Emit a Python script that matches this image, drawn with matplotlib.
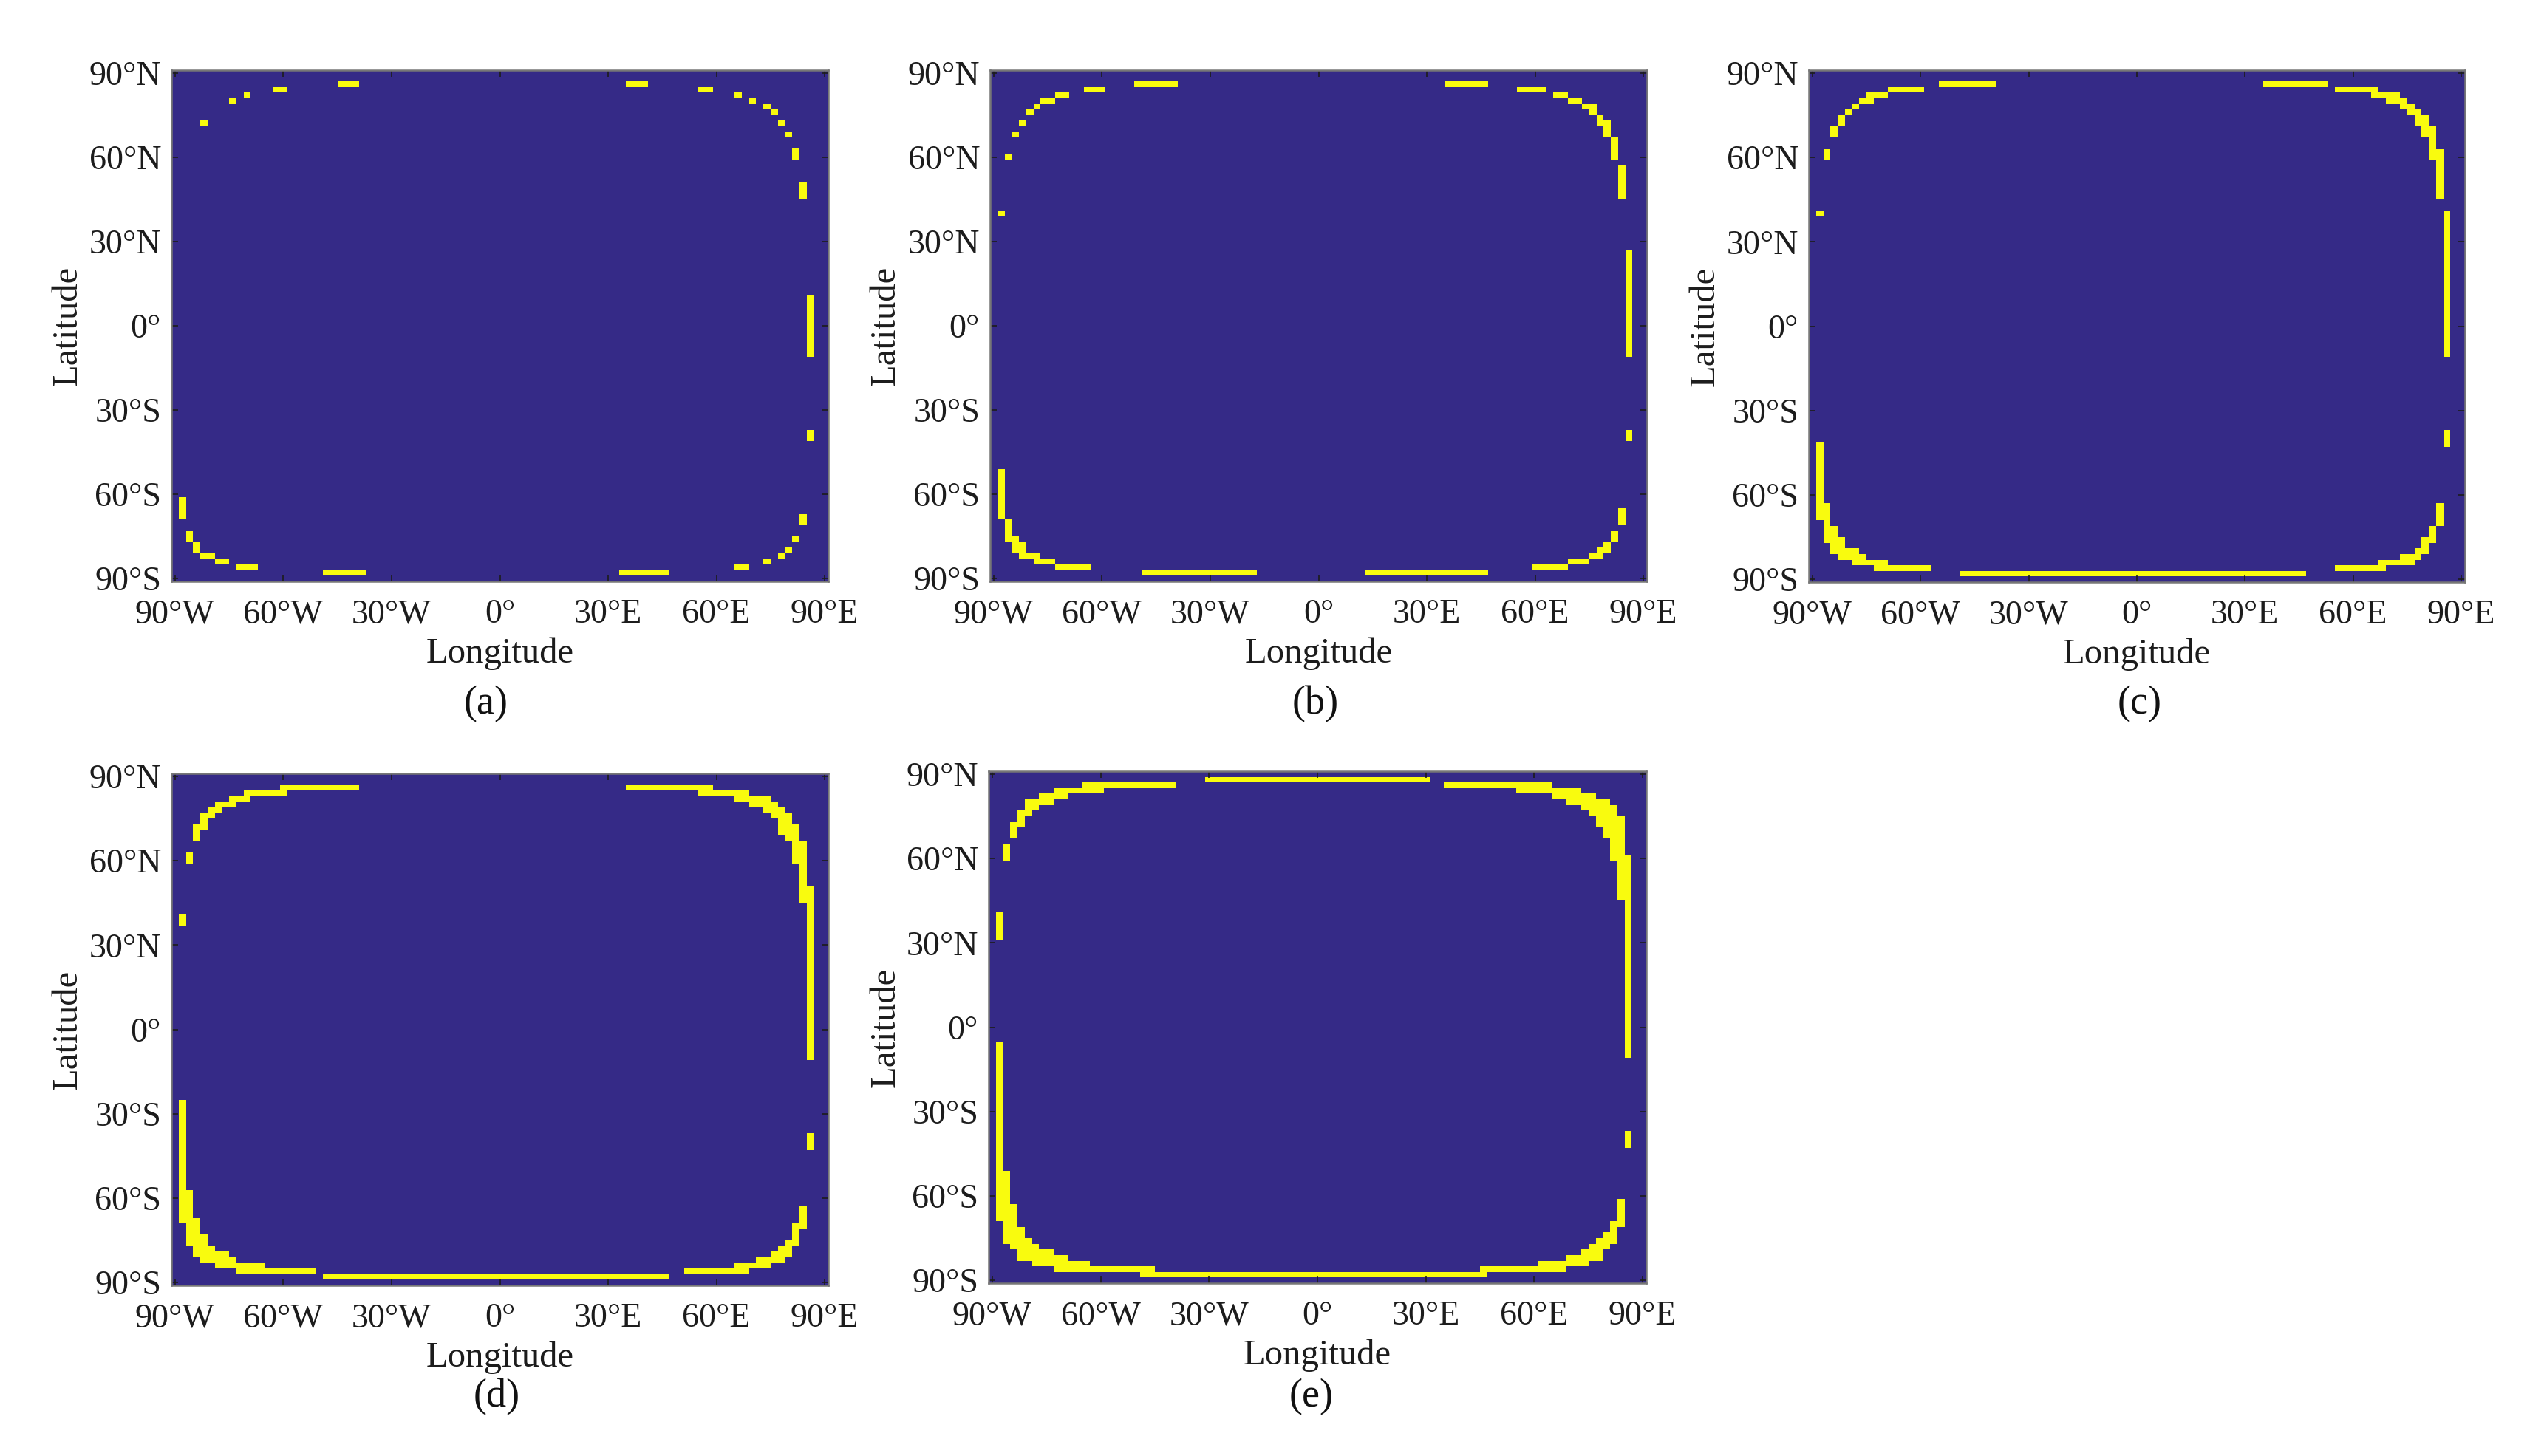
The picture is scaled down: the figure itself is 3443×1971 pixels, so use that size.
import numpy as np
import matplotlib
matplotlib.use('Agg')
import matplotlib.pyplot as plt
from matplotlib.colors import ListedColormap

plt.rcParams['font.family'] = ['Liberation Serif', 'DejaVu Sans']

# grid is 2 degrees, centres at -90:2:90
lons = np.arange(-90, 91, 2)
lats = np.arange(90, -91, -2)

lon_ticks = [-90, -60, -30, 0, 30, 60, 90]
lon_labels = ['90°W', '60°W', '30°W', '0°', '30°E', '60°E', '90°E']
lat_ticks = [90, 60, 30, 0, -30, -60, -90]
lat_labels = ['90°N', '60°N', '30°N', '0°', '30°S', '60°S', '90°S']

# covered blocks: (lat north, lat south, lon west, lon east)
cells_a = [
    (86, 86, -44, -40), (86, 86, 36, 40), (84, 84, -62, -60), (84, 84, 56, 58),
    (82, 82, -70, -70), (82, 82, 66, 66), (80, 80, -74, -74), (80, 80, 70, 70),
    (78, 78, 74, 74), (76, 76, 76, 76), (72, 72, -82, -82), (72, 72, 78, 78),
    (68, 68, 80, 80), (62, 60, 82, 82), (50, 46, 84, 84), (10, -10, 86, 86),
    (-38, -40, 86, 86), (-68, -70, 84, 84), (-76, -76, 82, 82), (-80, -80, 80, 80),
    (-82, -82, 78, 78), (-84, -84, 74, 74), (-86, -86, 66, 68), (-86, -86, -72, -68),
    (-88, -88, -48, -38), (-88, -88, 34, 46), (-62, -68, -88, -88), (-74, -76, -86, -86),
    (-78, -80, -84, -84), (-82, -82, -82, -80), (-84, -84, -78, -76),
]
cells_b = [
    (86, 86, -50, -40), (86, 86, 36, 46), (84, 84, -64, -60), (84, 84, 56, 62),
    (82, 82, -72, -70), (82, 82, 66, 68), (80, 80, -76, -74), (80, 80, 70, 72),
    (78, 78, -78, -78), (78, 78, 74, 76), (76, 76, -80, -80), (76, 76, 76, 76),
    (74, 74, 78, 78), (72, 72, -82, -82), (72, 72, 78, 80), (70, 68, 80, 80),
    (68, 68, -84, -84), (66, 60, 82, 82), (60, 60, -86, -86), (56, 46, 84, 84),
    (40, 40, -88, -88), (26, -10, 86, 86), (-38, -40, 86, 86), (-66, -70, 84, 84),
    (-74, -76, 82, 82), (-78, -78, 80, 80), (-80, -80, 78, 80), (-82, -82, 76, 78),
    (-84, -84, 70, 74), (-86, -86, 60, 68), (-86, -86, -72, -64), (-88, -88, -48, -18),
    (-88, -88, 14, 46), (-52, -68, -88, -88), (-70, -76, -86, -86), (-76, -76, -84, -84),
    (-78, -80, -84, -82), (-82, -82, -82, -78), (-84, -84, -78, -74),
]
cells_c = [
    (86, 86, -54, -40), (86, 86, 36, 52), (84, 84, -68, -60), (84, 84, 56, 66),
    (82, 82, -74, -70), (82, 82, 66, 72), (80, 80, -76, -74), (80, 80, 70, 74),
    (78, 78, -78, -78), (78, 78, 74, 76), (76, 76, -80, -80), (76, 76, 76, 78),
    (74, 72, -82, -82), (74, 72, 78, 80), (70, 68, -84, -84), (70, 68, 80, 82),
    (66, 64, 82, 82), (62, 60, -86, -86), (62, 60, 82, 84), (58, 46, 84, 84),
    (40, 40, -88, -88), (40, -10, 86, 86), (-38, -42, 86, 86), (-64, -70, 84, 84),
    (-72, -76, 82, 82), (-76, -78, 80, 80), (-80, -80, 78, 80), (-82, -82, 74, 78),
    (-84, -84, 68, 76), (-86, -86, 56, 68), (-86, -86, -72, -58), (-88, -88, -48, 46),
    (-42, -68, -88, -88), (-64, -68, -86, -86), (-70, -70, -86, -86), (-72, -76, -86, -84),
    (-76, -78, -84, -82), (-80, -80, -84, -78), (-82, -82, -82, -76), (-84, -84, -78, -70),
]
cells_d = [
    (86, 86, -60, -40), (86, 86, 36, 58), (84, 84, -70, -60), (84, 84, 56, 68),
    (82, 82, -74, -70), (82, 82, 66, 74), (80, 80, -78, -74), (80, 80, 70, 76),
    (78, 78, -80, -78), (78, 78, 74, 78), (76, 76, -82, -80), (76, 76, 76, 80),
    (74, 74, -82, -82), (74, 74, 78, 80), (72, 72, -84, -82), (72, 70, 78, 82),
    (70, 68, -84, -84), (68, 68, 80, 82), (66, 60, 82, 84), (62, 60, -86, -86),
    (58, 46, 84, 84), (50, -10, 86, 86), (40, 38, -88, -88), (-38, -42, 86, 86),
    (-64, -70, 84, 84), (-70, -76, 82, 82), (-76, -76, 80, 80), (-78, -78, 78, 80),
    (-80, -80, 76, 80), (-82, -82, 72, 78), (-84, -84, 66, 74), (-86, -86, 52, 68),
    (-86, -86, -72, -52), (-88, -88, -48, 46), (-26, -68, -88, -88), (-58, -68, -86, -86),
    (-68, -76, -86, -84), (-74, -76, -86, -82), (-78, -78, -84, -80), (-80, -80, -84, -76),
    (-82, -82, -82, -74), (-84, -84, -78, -66),
]
cells_e = [
    (88, 88, -30, 30), (86, 86, -64, -40), (86, 86, 36, 64), (84, 84, -72, -60),
    (84, 84, 56, 72), (82, 82, -76, -70), (82, 82, 66, 76), (80, 80, -80, -74),
    (80, 80, 70, 80), (78, 78, -80, -78), (78, 78, 74, 82), (76, 76, -82, -80),
    (76, 76, 76, 82), (74, 74, -82, -82), (74, 72, 78, 84), (72, 72, -84, -82),
    (70, 68, -84, -84), (70, 68, 80, 84), (66, 60, 82, 84), (64, 60, -86, -86),
    (60, -10, 86, 86), (58, 46, 84, 84), (40, 32, -88, -88), (-38, -42, 86, 86),
    (-62, -70, 84, 84), (-70, -76, 82, 82), (-74, -74, 80, 80), (-76, -76, 78, 80),
    (-78, -78, 76, 80), (-80, -80, 74, 78), (-82, -82, 70, 78), (-84, -84, 62, 74),
    (-86, -86, 46, 68), (-86, -86, -72, -46), (-88, -88, -48, 46), (-6, -68, -88, -88),
    (-52, -62, -88, -86), (-64, -68, -88, -84), (-70, -70, -86, -84), (-72, -74, -86, -82),
    (-76, -76, -86, -80), (-78, -78, -84, -78), (-80, -80, -82, -74), (-82, -82, -82, -70),
    (-84, -84, -78, -64),
]

W, H = 3443, 1971
panels = [
    ('(a)', cells_a, (232, 95, 1121, 787), (658, 953), 92),
    ('(b)', cells_b, (1340, 95, 2229, 787), (1780, 953), 1199),
    ('(c)', cells_c, (2448, 95, 3336, 788), (2896, 953), 2308),
    ('(d)', cells_d, (232, 1047, 1121, 1740), (672, 1891), 92),
    ('(e)', cells_e, (1338, 1044, 2228, 1737), (1775, 1891), 1199),
]

cmap = ListedColormap(['#352a87', '#f9fb0e'])
dark = '#1c1c1c'

fig = plt.figure(figsize=(W / 100, H / 100), dpi=100)

for name, cells, box, cap, lat_x in panels:
    left, top, right, bottom = box
    ax = fig.add_axes([left / W, 1 - bottom / H, (right - left) / W, (bottom - top) / H])

    grid = np.zeros((lats.size, lons.size))
    for north, south, west, east in cells:
        rows = (lats <= north) & (lats >= south)
        cols = (lons >= west) & (lons <= east)
        grid[np.ix_(rows, cols)] = 1

    ax.imshow(grid, cmap=cmap, vmin=0, vmax=1, aspect='auto', interpolation='nearest',
              extent=[-91, 91, -91, 91])
    ax.set_xticks(lon_ticks)
    ax.set_xticklabels(lon_labels)
    ax.set_yticks(lat_ticks)
    ax.set_yticklabels(lat_labels)
    ax.tick_params(direction='in', top=True, right=True, length=6.5, width=1.2,
                   color=dark, labelcolor=dark, labelsize=33)
    ax.tick_params(axis='x', pad=17)
    ax.tick_params(axis='y', pad=10)
    for spine in ax.spines.values():
        spine.set_color('#777777')
        spine.set_linewidth(1.8)

    ax.set_xlabel('Longitude', fontsize=35, color=dark, labelpad=6.5)
    fig.text(lat_x / W, 1 - (top + bottom) / 2 / H, 'Latitude', rotation=90, fontsize=35,
             color=dark, ha='center', va='center')
    fig.text(cap[0] / W, 1 - cap[1] / H, name, fontsize=39, color='#111111',
             ha='center', va='center')

fig.savefig('out.png', dpi=100, facecolor='white')
